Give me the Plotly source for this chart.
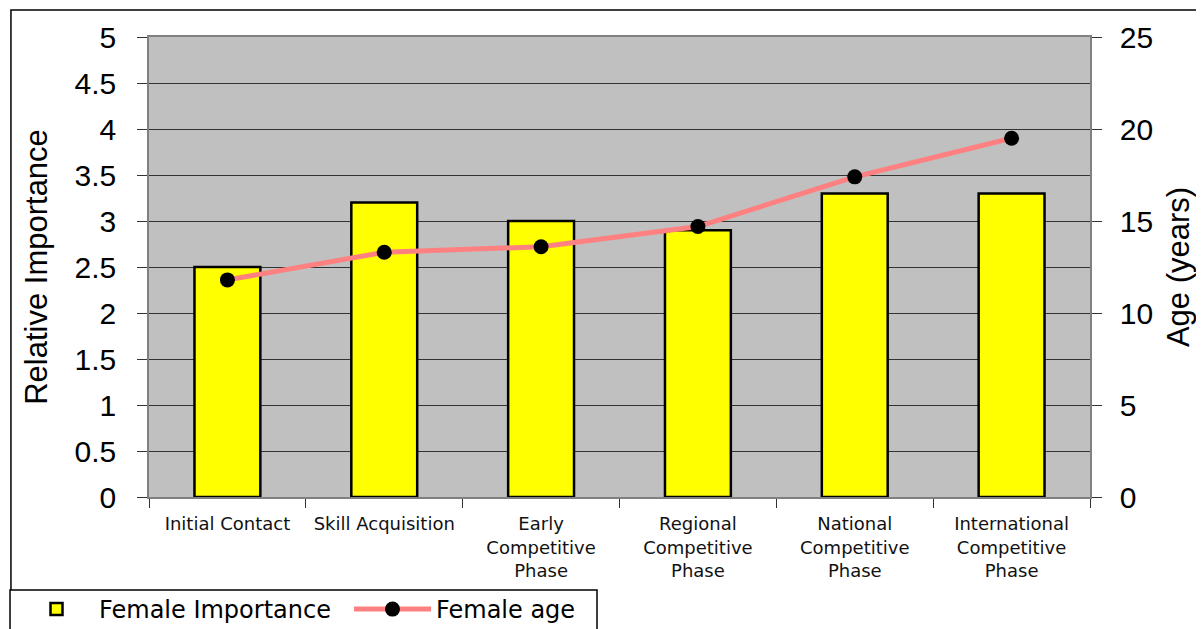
import plotly.graph_objects as go

categories = ["Initial Contact", "Skill Acquisition", "Early<br>Competitive<br>Phase",
              "Regional<br>Competitive<br>Phase", "National<br>Competitive<br>Phase",
              "International<br>Competitive<br>Phase"]
female_importance = [2.5, 3.2, 3.0, 2.9, 3.3, 3.3]
female_age = [11.8, 13.3, 13.6, 14.7, 17.4, 19.5]
left_ticks = [0, 0.5, 1, 1.5, 2, 2.5, 3, 3.5, 4, 4.5, 5]
right_ticks = [0, 5, 10, 15, 20, 25]

FONT = "Liberation Sans, Arial, sans-serif"
WIDE = "DejaVu Sans, sans-serif"

W, H = 1196, 621  # page body has an 8px margin

fig = go.Figure()
fig.add_trace(go.Bar(
    x=categories, y=female_importance, name="Female Importance",
    marker=dict(color="#FFFF00", line=dict(color="black", width=2.5)),
    yaxis="y", legend="legend",
))
fig.add_trace(go.Scatter(
    x=categories, y=female_age, name="Female age", mode="lines+markers",
    line=dict(color="#FF8080", width=5),
    marker=dict(color="black", size=15, symbol="circle"),
    yaxis="y2", legend="legend2",
))

legend_common = dict(
    orientation="h", xref="container", yref="container",
    xanchor="left", yanchor="top",
    borderwidth=0, bgcolor="rgba(0,0,0,0)",
    font=dict(size=24, family=WIDE),
)

fig.update_layout(
    width=W, height=H,
    margin=dict(l=141, r=W - 141 - 941, t=29, b=H - 29 - 460, autoexpand=False),
    paper_bgcolor="white", plot_bgcolor="#C0C0C0",
    font=dict(family=FONT, color="black"),
    bargap=0.58,
    showlegend=True,
    legend=dict(legend_common, x=6 / W, y=1 - 579 / H, itemwidth=75),
    legend2=dict(legend_common, x=341 / W, y=1 - 579 / H, itemwidth=77),
    xaxis=dict(
        type="category", tickson="boundaries", ticks="outside", ticklen=9,
        tickcolor="#333", tickwidth=1, automargin=False,
        tickfont=dict(size=18, family=WIDE, color="#111"),
        ticklabelstandoff=10,
        showline=True, linecolor="#808080", linewidth=1.5, mirror=True,
        showgrid=False,
    ),
    yaxis=dict(
        range=[0, 5], tickvals=left_ticks, ticktext=[f"{v:g}" for v in left_ticks],
        ticks="outside", ticklen=10, tickcolor="#333", automargin=False,
        tickfont=dict(size=30, family=FONT), ticklabelstandoff=15,
        showgrid=True, gridcolor="#333", gridwidth=1,
        showline=True, linecolor="#808080", linewidth=1.5,
        zeroline=False,
        title=dict(text="Relative Importance", font=dict(size=31, family=FONT), standoff=18),
    ),
    yaxis2=dict(
        range=[0, 25], tickvals=right_ticks, overlaying="y", side="right",
        ticks="outside", ticklen=10, tickcolor="#333", automargin=False,
        tickfont=dict(size=30, family=FONT), ticklabelstandoff=12,
        showgrid=False, showline=True, linecolor="#808080", linewidth=1.5,
        zeroline=False,
        title=dict(text="Age (years)", font=dict(size=31, family=FONT), standoff=15),
    ),
)

# outer chart frame
fig.add_shape(type="rect", xref="paper", yref="paper",
              x0=-0.1467, x1=1.12, y0=-0.35, y1=1.0587,
              line=dict(color="black", width=1.5), fillcolor="rgba(0,0,0,0)", layer="below")
# legend box
fig.add_shape(type="rect", xref="paper", yref="paper",
              x0=-0.1477, x1=0.4761, y0=-0.35, y1=-0.2022,
              line=dict(color="black", width=1.5), fillcolor="white", layer="below")

fig.write_html("out.html")
